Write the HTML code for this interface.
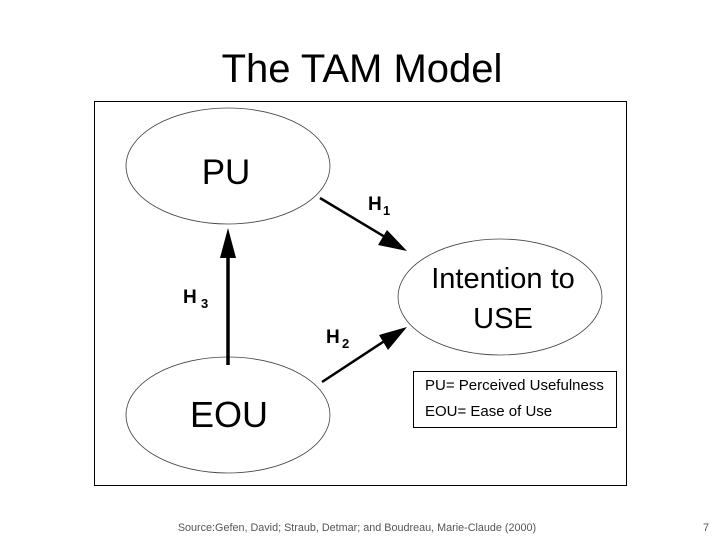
<!DOCTYPE html>
<html><head><meta charset="utf-8"><style>
body{margin:0;width:720px;height:540px;background:#fff;overflow:hidden;font-family:"Liberation Sans",sans-serif;}
</style></head><body>
<svg width="720" height="540" xmlns="http://www.w3.org/2000/svg" font-family="Liberation Sans, sans-serif">
<text x="362" y="82" font-size="40" text-anchor="middle" fill="#000">The TAM Model</text>
<rect x="94.5" y="101.5" width="532" height="384" fill="#fff" stroke="#000" stroke-width="1"/>
<ellipse cx="228" cy="166" rx="102" ry="58" fill="#fff" stroke="#444" stroke-width="0.8"/>
<ellipse cx="228" cy="415" rx="102" ry="58" fill="#fff" stroke="#444" stroke-width="0.8"/>
<ellipse cx="500" cy="297" rx="102" ry="58" fill="#fff" stroke="#444" stroke-width="0.8"/>
<text x="226" y="184" font-size="35" text-anchor="middle">PU</text>
<text x="229" y="427" font-size="36" text-anchor="middle">EOU</text>
<text x="503" y="288" font-size="29" text-anchor="middle">Intention to</text>
<text x="503" y="328" font-size="29" text-anchor="middle">USE</text>
<line x1="228" y1="365" x2="228" y2="256" stroke="#000" stroke-width="3.5"/>
<path d="M228,228 L236,258 L220,258z" fill="#000"/>
<line x1="320" y1="198" x2="385" y2="237" stroke="#000" stroke-width="2.5"/>
<path d="M407,251 L378,245 L387,230z" fill="#000"/>
<line x1="322" y1="382" x2="386" y2="340" stroke="#000" stroke-width="2.5"/>
<path d="M407,327 L388,350 L379,335z" fill="#000"/>
<text x="368" y="210" font-size="19" font-weight="bold">H</text><text x="383" y="215" font-size="13" font-weight="bold">1</text>
<text x="183" y="303" font-size="19" font-weight="bold">H</text><text x="201" y="308" font-size="13" font-weight="bold">3</text>
<text x="326" y="343" font-size="19" font-weight="bold">H</text><text x="342" y="348" font-size="13" font-weight="bold">2</text>
<rect x="413.5" y="371.5" width="203" height="56" fill="#fff" stroke="#000" stroke-width="1"/>
<text x="425" y="390" font-size="15">PU= Perceived Usefulness</text>
<text x="425" y="416" font-size="15">EOU= Ease of Use</text>
<text x="357" y="531" font-size="10.8" text-anchor="middle" fill="#555">Source:Gefen, David; Straub, Detmar; and Boudreau, Marie-Claude (2000)</text>
<text x="706" y="531" font-size="11" text-anchor="middle" fill="#555">7</text>
</svg>
</body></html>
